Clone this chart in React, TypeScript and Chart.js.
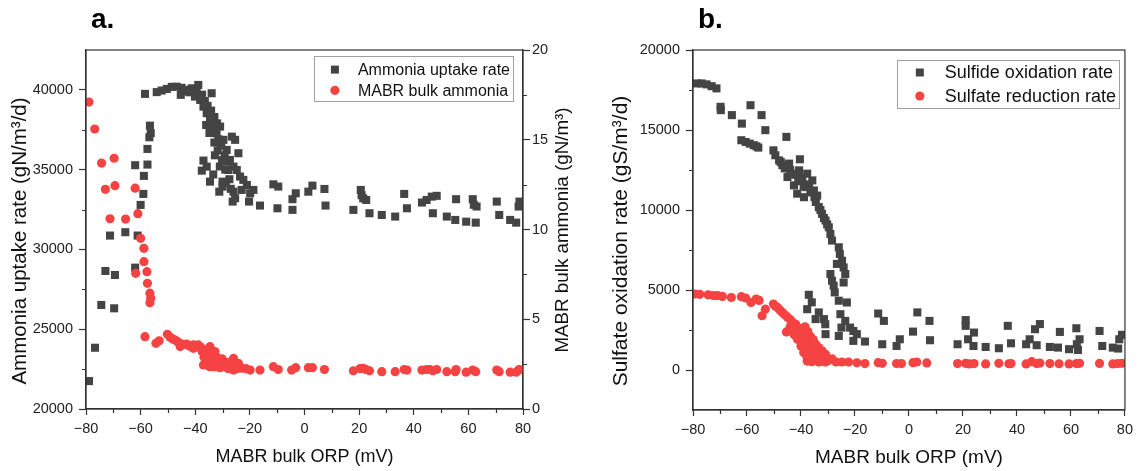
import React, { useEffect, useRef } from "react";
import { Chart, registerables } from "chart.js";

Chart.register(...registerables);

const FONT = "'Liberation Sans', Arial, sans-serif";

// ---- axis ticks ----
const orpTicks = [-80, -60, -40, -20, 0, 20, 40, 60, 80];
const orpMinor = [-70, -50, -30, -10, 10, 30, 50, 70];
const uptakeTicks = [20000, 25000, 30000, 35000, 40000];
const uptakeMinor = [22500, 27500, 32500, 37500];
const bulkTicks = [0, 5, 10, 15, 20];
const bulkMinor = [2.5, 7.5, 12.5, 17.5];
const sulfurTicks = [0, 5000, 10000, 15000, 20000];
const sulfurMinor = [2500, 7500, 12500, 17500];

// ---- panel a: ammonia uptake rate (gN/m3/d) vs ORP ----
const uptakeOrp = [-78.9,-76.7,-74.4,-72.9,-71.2,-69.7,-69.4,-65.6,-62.0,-62.0,-61.1,-60.0,-59.0,-58.8,-58.4,-57.5,-57.5,-56.8,-56.3,-56.6,
-54.1,-52.3,-50.4,-48.6,-46.8,-45.0,-45.3,-44.0,-43.1,-42.0,-41.3,-40.1,-38.9,-39.5,-38.2,-37.5,-37.0,-36.5,-35.8,-35.5,
-34.6,-34.0,-34.2,-33.4,-33.0,-32.2,-32.0,-31.5,-30.9,-30.5,-29.7,-29.2,-28.5,-28.0,-27.3,-26.6,-26.0,-25.4,-24.8,-24.2,
-23.6,-22.4,-27.9,-26.0,-26.3,-25.4,-23.0,-21.1,-19.9,-18.7,-20.3,-16.3,-37.0,-37.6,-35.8,-34.6,-33.4,-31.2,-30.0,-30.0,
-36.0,-34.8,-33.0,-31.8,-30.2,-29.0,-27.5,-28.8,-27.0,-32.8,-31.0,
-11.4,-9.6,-9.9,-4.4,-3.2,-4.4,1.4,2.9,7.3,7.7,17.9,20.6,20.9,21.5,22.6,23.8,28.3,33.2,36.5,37.5,
43.0,44.7,46.6,48.4,47.0,52.1,55.2,55.5,59.2,62.7,61.6,62.0,63.0,70.4,71.3,75.3,77.5,78.4,78.7];
const uptakeRate = [21750,23840,26520,28650,30870,26310,28400,31080,28860,35280,30870,32790,33480,34610,39750,35320,36300,37030,37290,37760,
39860,39960,40060,40190,40200,40130,39690,39900,40000,39850,40100,39580,40310,39900,39370,39700,38950,39300,38540,39000,
38120,39790,38700,37700,38300,37280,37900,36900,37700,36500,36870,35900,36240,35500,35610,37070,35190,36870,34980,36030,
34570,34360,34980,33620,33000,33210,33730,34040,33520,33730,33000,32750,35570,34940,35190,34250,34700,33620,33940,34250,
37800,37300,36700,36200,35600,35000,34400,34200,33800,35900,35200,
34080,33940,32580,33150,33520,32480,33620,34000,33790,32750,32480,33730,33400,33200,33100,32270,32160,32060,33480,32580,
32940,33100,33310,33360,32270,32060,31850,33150,31740,31680,33150,32800,32690,33000,32160,31850,31680,32690,33000];

// ---- panel a: MABR bulk ammonia (gN/m3) vs ORP ----
const bulkOrp = [-78.9,-76.8,-74.3,-72.9,-71.2,-69.7,-69.4,-65.5,-62.0,-61.0,-60.0,-58.8,-58.8,-61.8,-57.7,-57.5,-56.6,-56.3,-56.6,-58.4,
-54.4,-53.2,-50.2,-49.2,-48.2,-47.4,-46.5,-45.6,-45.5,-44.2,-43.1,-42.0,-40.7,-40.7,-39.8,-38.9,-38.0,-37.5,-37.0,-36.5,
-35.8,-35.2,-34.6,-34.6,-34.0,-33.4,-32.8,-32.2,-31.5,-30.9,-30.2,-29.7,-28.5,-27.5,-26.0,-26.0,-25.0,-24.2,-23.0,-21.5,
-19.9,-16.3,-11.4,-9.6,-4.7,-3.2,1.4,2.9,7.3,17.9,20.4,21.5,22.5,23.8,28.3,33.2,36.5,37.5,43.0,44.7,
46.0,47.0,48.4,52.1,55.2,55.5,59.2,61.6,62.7,70.4,71.3,75.3,77.5,78.4,78.7,
-36.0,-35.0,-33.0,-32.0,-31.0,-29.0,-28.0,-27.0,-25.5,-24.5,-36.8,-33.8];
const bulkAmmonia = [17.1,15.6,13.7,12.24,10.6,13.97,12.44,10.58,12.3,10.88,9.51,8.95,8.21,7.56,7.65,7.0,6.45,6.17,5.92,4.03,
3.66,3.8,4.16,4.0,3.9,3.84,3.75,3.66,3.48,3.6,3.62,3.5,3.57,3.38,3.45,3.57,3.45,3.2,2.45,3.0,
3.29,2.8,3.47,2.36,3.1,2.73,3.2,2.9,2.5,2.55,2.8,2.36,2.6,2.3,2.82,2.17,2.4,2.55,2.27,2.25,
2.17,2.17,2.36,2.2,2.17,2.3,2.3,2.3,2.2,2.13,2.25,2.27,2.2,2.13,2.08,2.08,2.2,2.17,2.17,2.2,
2.2,2.13,2.2,2.08,2.08,2.2,2.05,2.17,2.08,2.17,2.08,2.05,2.05,2.17,2.2,
2.6,2.4,2.35,2.6,2.3,2.5,2.25,2.6,2.3,2.25,2.9,2.9];

// ---- panel b: sulfide oxidation rate (gS/m3/d) vs ORP ----
const sulfideOrp = [-78.6,-76.8,-75.0,-73.1,-71.3,-69.8,-69.7,-65.6,-61.9,-58.7,-54.6,-53.2,-45.4,-62.1,-60.5,-59.0,-57.5,-56.5,-55.8,-50.2,
-49.5,-48.1,-46.9,-40.4,-45.0,-42.6,-41.4,-43.0,-44.4,-40.7,-37.7,-35.8,-35.2,-38.3,-38.9,-35.0,-33.4,-32.2,-30.9,-29.7,
-29.1,-28.5,-26.0,-25.6,-24.8,-24.2,-23.6,-24.2,-26.7,-29.1,-28.5,-27.9,-27.5,-26.0,-23.0,-25.4,-23.6,-25.0,-26.0,-21.8,
-20.6,-19.3,-20.6,-16.3,-37.1,-36.0,-37.7,-33.4,-34.6,-31.5,-31.0,-30.9,-47.5,-46.0,-44.0,-42.0,-41.0,-39.5,-39.0,-37.0,
-36.5,-34.5,-34.0,-32.8,-31.5,-30.3,
-11.4,-9.3,-9.9,-4.6,-3.4,1.5,3.1,7.6,7.8,18.0,21.0,21.0,21.9,24.1,23.9,28.4,33.3,36.6,37.8,43.4,
44.7,46.7,48.5,47.3,52.2,55.2,55.9,59.3,62.0,63.2,62.2,62.6,70.6,71.6,75.5,77.5,77.9,78.9];
const sulfideRate = [17910,17910,17850,17740,17600,16450,16240,15930,15400,16550,15930,14990,14570,14360,14250,14150,14050,13980,13900,13730,
13420,13100,12800,13170,12060,11540,11020,12270,12900,12480,12270,11850,11220,11430,10800,10800,10180,9760,9340,8920,
8500,8090,7670,7250,6830,6410,6000,5470,6630,6000,5580,5270,4850,4330,4220,3490,3070,2650,2130,2650,
2440,2240,1820,1780,4700,4230,3800,3600,3180,3180,2860,2240,13000,12600,12500,12200,11800,12000,11500,11600,
11100,10500,10900,10000,9500,9100,
3530,3070,1610,1500,1920,2400,3600,3070,1860,1610,3120,2760,1920,2340,1500,1440,1360,2760,1670,1610,
1920,2550,2870,1550,1440,1400,2380,1300,2610,1920,1610,1250,2440,1500,1400,1340,1920,2200];

// ---- panel b: sulfate reduction rate (gS/m3/d) vs ORP ----
const sulfateOrp = [-79.3,-77.5,-74.4,-72.5,-71.0,-69.1,-65.8,-62.1,-60.5,-58.5,-56.6,-55.5,-54.4,-53.2,-50.2,-49.5,-48.7,-47.8,-46.9,-46.0,
-45.0,-44.0,-43.2,-45.4,-41.9,-41.3,-40.5,-39.5,-38.5,-37.1,-36.3,-35.0,-33.4,-32.2,-30.9,-37.7,-36.0,-33.4,-31.0,-28.5,
-27.0,-24.8,-22.4,-19.3,-16.3,-11.4,-9.9,-4.6,-2.8,1.5,2.9,6.6,
-44.0,-42.5,-41.0,-40.0,-39.0,-38.0,-37.0,-36.0,-35.0,-34.0,-38.5,-37.5,-36.5,-35.5,-34.5,-33.5,-32.5,-31.5,-29.8,-43.0,
-40.0,-39.0,-38.0,
18.0,21.0,22.3,24.1,28.4,33.3,37.0,37.8,43.4,45.5,47.3,48.5,52.2,55.6,59.3,62.0,63.2,70.6,75.5,77.3,78.9];
const sulfateRate = [4750,4730,4700,4650,4650,4600,4530,4580,4500,4220,4430,4350,3390,3800,4120,4000,3910,3750,3600,3450,
3300,3150,3000,2380,2860,1920,2600,2400,2200,1820,1700,1550,1400,1200,980,560,520,500,500,700,
500,500,500,450,400,460,420,400,400,460,500,440,
2700,2200,2400,2000,1700,1500,1300,1100,900,800,2700,2400,2100,1900,1600,1100,900,700,600,2600,
1500,1100,900,
400,420,380,400,380,420,390,400,380,520,400,430,400,390,380,400,420,410,380,400,420];

const GRAY = "#444444";
const RED = "#f54242";

const pts = (xs: number[], ys: number[]) => xs.map((x, i) => ({ x, y: ys[i] }));
const fmt = (v: number) => (v < 0 ? "\u2212" + Math.abs(v) : String(v));

type LegendItem = { label: string; color: string; style: "rect" | "circle" };
type VTitle = { text: string; x: number; y: number; size: number };
type Decor = {
  letter: string;
  letterX: number;
  legend: LegendItem[];
  legendFont: number;
  legendRightGap: number;
  legendTopGap: number;
  legendMarkerDx: number;
  legendTextDx: number;
  legendRows: number[];
  legendHeight: number;
  minor: { x?: number[]; y?: number[]; y2?: number[] };
  vTitles: VTitle[];
};

function decorPlugin(d: Decor) {
  return {
    id: "decor",
    afterDraw(chart: any) {
      const { ctx, chartArea: a, scales } = chart;
      ctx.save();
      ctx.strokeStyle = "#333";
      ctx.lineWidth = 1.2;
      ctx.beginPath();
      (d.minor.x || []).forEach((v) => {
        const p = Math.round(scales.x.getPixelForValue(v)) + 0.5;
        ctx.moveTo(p, a.bottom);
        ctx.lineTo(p, a.bottom + 4);
      });
      (d.minor.y || []).forEach((v) => {
        const p = Math.round(scales.y.getPixelForValue(v)) + 0.5;
        ctx.moveTo(a.left - 4, p);
        ctx.lineTo(a.left, p);
      });
      (d.minor.y2 || []).forEach((v) => {
        const p = Math.round(scales.y2.getPixelForValue(v)) + 0.5;
        ctx.moveTo(a.right, p);
        ctx.lineTo(a.right + 4, p);
      });
      ctx.stroke();
      // frame
      ctx.strokeRect(a.left, a.top, a.right - a.left, a.bottom - a.top);
      // vertical axis titles (reading bottom to top)
      d.vTitles.forEach((t) => {
        ctx.save();
        ctx.translate(t.x, t.y);
        ctx.rotate(-Math.PI / 2);
        ctx.font = `${t.size}px ${FONT}`;
        ctx.fillStyle = "#111";
        ctx.textAlign = "center";
        ctx.textBaseline = "middle";
        ctx.fillText(t.text, 0, 0);
        ctx.restore();
      });
      // panel letter
      ctx.fillStyle = "#000";
      ctx.font = `bold 28px ${FONT}`;
      ctx.textBaseline = "alphabetic";
      ctx.textAlign = "left";
      ctx.fillText(d.letter, d.letterX, 28);
      // legend
      ctx.font = `${d.legendFont}px ${FONT}`;
      const maxW = Math.max(...d.legend.map((it) => ctx.measureText(it.label).width));
      const w = d.legendTextDx + maxW + 3;
      const right = a.right - d.legendRightGap;
      const left = right - w;
      const top = a.top + d.legendTopGap;
      ctx.fillStyle = "#fff";
      ctx.fillRect(left, top, w, d.legendHeight);
      ctx.strokeStyle = "#a0a0a0";
      ctx.lineWidth = 1;
      ctx.strokeRect(Math.round(left) + 0.5, Math.round(top) + 0.5, Math.round(w), Math.round(d.legendHeight));
      d.legend.forEach((it, i) => {
        const cy = top + d.legendRows[i];
        const cx = left + d.legendMarkerDx;
        ctx.fillStyle = it.color;
        if (it.style === "rect") {
          ctx.fillRect(cx - 4, cy - 4, 8, 8);
        } else {
          ctx.beginPath();
          ctx.arc(cx, cy, 4.6, 0, Math.PI * 2);
          ctx.fill();
        }
        ctx.fillStyle = "#111";
        ctx.textBaseline = "middle";
        ctx.fillText(it.label, left + d.legendTextDx, cy + 1);
      });
      ctx.restore();
    },
  };
}

const setTicks = (vals: number[]) => (s: any) => {
  s.ticks = vals.map((v) => ({ value: v }));
};

function axisBase(tickVals: number[], tickSize: number, padding: number, tickLen: number) {
  return {
    type: "linear" as const,
    afterBuildTicks: setTicks(tickVals),
    ticks: {
      callback: (v: any) => fmt(Number(v)),
      font: { family: FONT, size: tickSize },
      color: "#222",
      padding,
      maxRotation: 0,
      autoSkip: false,
    },
    grid: {
      drawOnChartArea: false,
      drawTicks: true,
      tickLength: tickLen,
      tickColor: "#333",
      tickWidth: 1.2,
    },
    border: { display: true, color: "#333", width: 1.2 },
  };
}

export default function App() {
  const refA = useRef<HTMLCanvasElement>(null);
  const refB = useRef<HTMLCanvasElement>(null);

  useEffect(() => {
    const chartA = new Chart(refA.current as HTMLCanvasElement, {
      type: "scatter",
      data: {
        datasets: [
          {
            label: "MABR bulk ammonia",
            data: pts(bulkOrp, bulkAmmonia),
            yAxisID: "y2",
            pointStyle: "circle",
            pointRadius: 4.6,
            backgroundColor: RED,
            borderColor: RED,
            borderWidth: 0,
          },
          {
            label: "Ammonia uptake rate",
            data: pts(uptakeOrp, uptakeRate),
            yAxisID: "y",
            pointStyle: "rect",
            pointRadius: 5.7,
            backgroundColor: GRAY,
            borderColor: GRAY,
            borderWidth: 0,
          },
        ],
      },
      options: {
        responsive: false,
        animation: false,
        events: [],
        layout: { padding: { top: 50, left: 0, right: 0, bottom: 0 } },
        plugins: { legend: { display: false }, tooltip: { enabled: false } },
        scales: {
          x: {
            ...axisBase(orpTicks, 14.5, 5, 6),
            min: -80,
            max: 80,
            position: "bottom",
            afterFit: (s: any) => {
              s.height = 62;
            },
            title: {
              display: true,
              text: "MABR bulk ORP (mV)",
              font: { family: FONT, size: 18 },
              color: "#111",
              padding: { top: 0, bottom: 3 },
            },
          },
          y: {
            ...axisBase(uptakeTicks, 14.5, 6, 7),
            min: 20000,
            max: 42500,
            position: "left",
            afterFit: (s: any) => {
              s.width = 86;
            },
            title: { display: false },
          },
          y2: {
            ...axisBase(bulkTicks, 14.5, 2, 7),
            min: 0,
            max: 20,
            position: "right",
            afterFit: (s: any) => {
              s.width = 57;
            },
            title: { display: false },
          },
        },
      } as any,
      plugins: [
        decorPlugin({
          letter: "a.",
          letterX: 91,
          legend: [
            { label: "Ammonia uptake rate", color: GRAY, style: "rect" },
            { label: "MABR bulk ammonia", color: RED, style: "circle" },
          ],
          legendFont: 16,
          legendRightGap: 10,
          legendTopGap: 6,
          legendMarkerDx: 21,
          legendTextDx: 44,
          legendRows: [13.6, 34.3],
          legendHeight: 45,
          minor: { x: orpMinor, y: uptakeMinor, y2: bulkMinor },
          vTitles: [
            { text: "Ammonia uptake rate (gN/m³/d)", x: 20, y: 241, size: 20.5 },
            { text: "MABR bulk ammonia (gN/m³)", x: 563, y: 230, size: 18.8 },
          ],
        }),
      ],
    });

    const chartB = new Chart(refB.current as HTMLCanvasElement, {
      type: "scatter",
      data: {
        datasets: [
          {
            label: "Sulfate reduction rate",
            data: pts(sulfateOrp, sulfateRate),
            pointStyle: "circle",
            pointRadius: 4.6,
            backgroundColor: RED,
            borderColor: RED,
            borderWidth: 0,
          },
          {
            label: "Sulfide oxidation rate",
            data: pts(sulfideOrp, sulfideRate),
            pointStyle: "rect",
            pointRadius: 5.7,
            backgroundColor: GRAY,
            borderColor: GRAY,
            borderWidth: 0,
          },
        ],
      },
      options: {
        responsive: false,
        animation: false,
        events: [],
        layout: { padding: { top: 50, left: 0, right: 9, bottom: 0 } },
        plugins: { legend: { display: false }, tooltip: { enabled: false } },
        scales: {
          x: {
            ...axisBase(orpTicks, 14.5, 5, 6),
            min: -80,
            max: 80,
            position: "bottom",
            afterFit: (s: any) => {
              s.height = 61;
            },
            title: {
              display: true,
              text: "MABR bulk ORP (mV)",
              font: { family: FONT, size: 19 },
              color: "#111",
              padding: { top: 0, bottom: 2 },
            },
          },
          y: {
            ...axisBase(sulfurTicks, 14.5, 6, 7),
            min: -2500,
            max: 20000,
            position: "left",
            afterFit: (s: any) => {
              s.width = 113;
            },
            title: { display: false },
          },
        },
      } as any,
      plugins: [
        decorPlugin({
          letter: "b.",
          letterX: 118,
          legend: [
            { label: "Sulfide oxidation rate", color: GRAY, style: "rect" },
            { label: "Sulfate reduction rate", color: RED, style: "circle" },
          ],
          legendFont: 18,
          legendRightGap: 6,
          legendTopGap: 10,
          legendMarkerDx: 23,
          legendTextDx: 48,
          legendRows: [12.5, 36],
          legendHeight: 48,
          minor: { x: orpMinor, y: sulfurMinor },
          vTitles: [{ text: "Sulfate oxidation rate (gS/m³/d)", x: 41, y: 241, size: 21 }],
        }),
      ],
    });

    return () => {
      chartA.destroy();
      chartB.destroy();
    };
  }, []);

  return (
    <div
      style={{
        position: "absolute",
        left: 0,
        top: 0,
        width: 1138,
        height: 471,
        background: "#fff",
        overflow: "hidden",
      }}
    >
      <canvas ref={refA} width={580} height={471} style={{ position: "absolute", left: 0, top: 0 }} />
      <canvas ref={refB} width={558} height={471} style={{ position: "absolute", left: 580, top: 0 }} />
    </div>
  );
}
